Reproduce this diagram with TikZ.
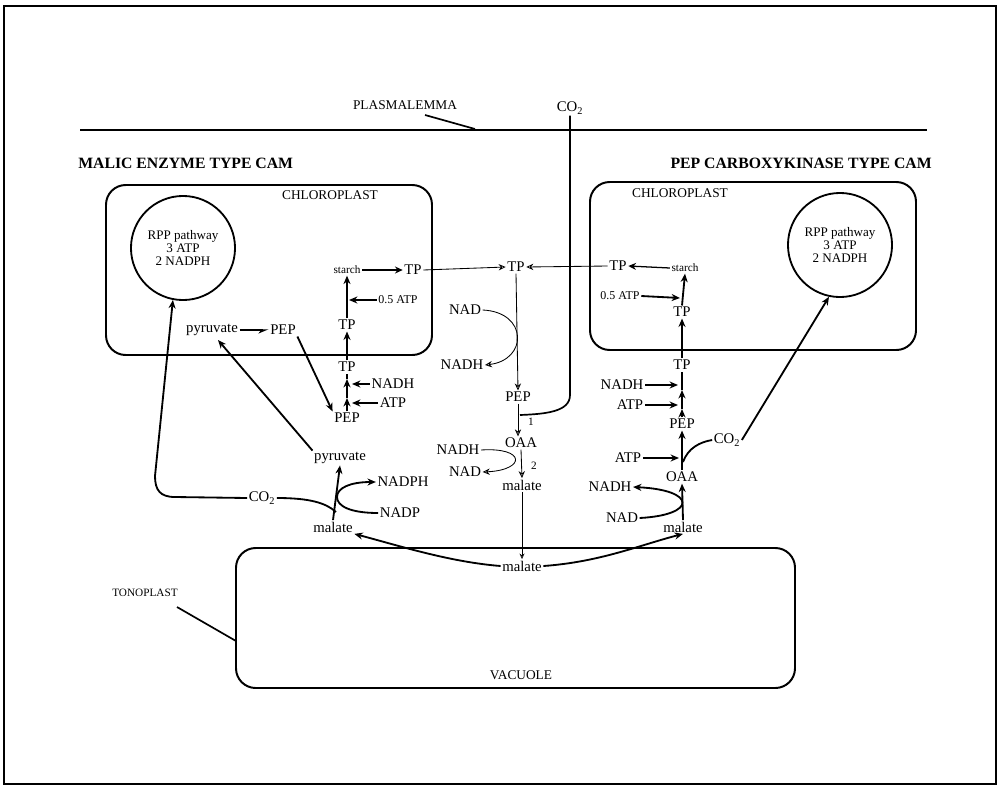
\documentclass[tikz,border=0pt]{standalone}
\usepackage{fontspec}
\setmainfont{Liberation Serif}
\usetikzlibrary{arrows.meta,calc}
\begin{document}
\begin{tikzpicture}[x=0.025cm,y=-0.025cm,
  lab/.style={font=\fontsize{10.5}{12}\selectfont, inner sep=1pt},
  sm/.style={font=\fontsize{8}{9}\selectfont, inner sep=1pt},
  caplab/.style={font=\fontsize{9.5}{10}\selectfont, inner sep=1pt},
  smb/.style={font=\fontsize{8.5}{9}\selectfont, inner sep=1pt},
  ttl/.style={font=\bfseries\fontsize{11.2}{12}\selectfont, inner sep=0pt},
  mem/.style={line width=1.4pt},
  box/.style={draw, line width=1.4pt, rounded corners=14pt},
  rpp/.style={draw, circle, line width=1.3pt, minimum size=74pt, inner sep=0pt, align=center, font=\fontsize{9.3}{9.5}\selectfont},
  thk/.style={line width=1.3pt, -{Stealth[length=6pt,width=5pt]}},
  plain/.style={line width=1.3pt},
  opn/.style={line width=0.9pt, -{Stealth[open,length=5.5pt,width=5pt]}},
  thn/.style={line width=0.6pt, -{Stealth[open,length=5pt,width=4.5pt]}},
]
\useasboundingbox (0,0) rectangle (1000,790);
% frame of the scan
\draw[line width=1.6pt] (4,6) rectangle (996,784);

% plasmalemma
\coordinate (plasL) at (80,130);
\coordinate (plasR) at (927,130);
\draw[mem] (plasL) -- (plasR);
\node[caplab] (plas) at (405,105) {PLASMALEMMA};
\coordinate (plasA) at (425,115);
\coordinate (plasB) at (475,129);
\draw[line width=1.2pt] (plasA) -- (plasB);
\node[lab] (co2top) at (570,108) {CO\textsubscript{2}};

% titles
\node[ttl, anchor=west] (tL) at (78,163) {MALIC ENZYME TYPE CAM};
\node[ttl, anchor=east] (tR) at (932,163) {PEP CARBOXYKINASE TYPE CAM};

% compartments
\draw[box] (106,185) rectangle (432,355);
\draw[box] (590,182) rectangle (916,350);
\draw[box] (236,548) rectangle (795,688);
\node[caplab] (chlL) at (330,195) {CHLOROPLAST};
\node[caplab] (chlR) at (680,193) {CHLOROPLAST};
\node[caplab] (vac) at (521,675) {VACUOLE};
\node[sm] (tono) at (145,593) {TONOPLAST};
\coordinate (tonoA) at (177,607);
\coordinate (tonoB) at (236,641);
\draw[line width=1.2pt] (tonoA) -- (tonoB);

% RPP circles
\node[rpp] (rppL) at (183,248) {RPP pathway\\3 ATP\\2 NADPH};
\node[rpp] (rppR) at (840,245) {RPP pathway\\3 ATP\\2 NADPH};

% ---------- left (malic enzyme) ----------
\node[sm] (starchL) at (347,270) {starch};
\node[lab] (tpL1) at (413,270) {TP};
\node[lab] (tpL2) at (347,325) {TP};
\node[smb] (atpL05) at (398,300) {0.5 ATP};
\node[lab] (tpL3) at (347,367) {TP};
\node[lab] (nadhL) at (393,384) {NADH};
\node[lab] (atpL) at (393,403) {ATP};
\node[lab] (pepL2) at (347,418) {PEP};
\node[lab] (pyrL1) at (212,330) {pyruvate};
\node[lab] (pepL1) at (283,330) {PEP};
\node[lab] (pyrL2) at (340,458) {pyruvate};
\node[lab] (co2L) at (262,498) {CO\textsubscript{2}};
\node[lab] (nadphL) at (403,482) {NADPH};
\node[lab] (nadpL) at (400,513) {NADP};
\node[lab] (malL) at (333,527) {malate};

\draw[opn] (starchL.east) -- (tpL1.west);
\draw[thk] (tpL2.north) -- (starchL.south);
\coordinate (jL05) at (349,300);
\draw[thk] (atpL05.west) -- (jL05);
\draw[thk] (tpL3.north) -- (tpL2.south);
\coordinate (aL1) at (347,398);
\coordinate (aL2) at (347,379);
\draw[thk] (pepL2.north) -- (aL1);
\draw[thk] (aL1) -- (aL2);
\draw[plain] (aL2) -- (tpL3.south);
\coordinate (jL1) at (352,384);
\coordinate (jL2) at (352,403);
\draw[thk] (nadhL.west) -- (jL1);
\draw[thk] (atpL.west) -- (jL2);
\draw[line width=1.3pt, -{Stealth[harpoon,swap,length=6pt,width=5pt]}] (pyrL1.east) -- (pepL1.west);
\draw[thk] (pepL1.south east) -- (pepL2.north west);
\coordinate (pyrL1t) at (218,340);
\draw[thk] (pyrL2.north west) -- (pyrL1t);
\coordinate (vL) at (336,512);
\draw[thk] (malL.north) -- (pyrL2.south);
\draw[thk] (nadpL.west) .. controls (350,513) and (337,506) .. (337,497)
   .. controls (337,488) and (350,482) .. (nadphL.west);
\draw[plain] (co2L.east) .. controls (310,498) and (326,503) .. (vL);
\coordinate (cL1) at (175,497);
\coordinate (cL2) at (155,476);
\draw[thk] (co2L.west) -- (cL1) .. controls (160,497) and (155,490) .. (cL2) -- (rppL.259);

% ---------- centre ----------
\node[lab] (tpC) at (516,267) {TP};
\node[lab] (nadC1) at (465,310) {NAD};
\node[lab] (nadhC1) at (462,365) {NADH};
\node[lab] (pepC) at (518,397) {PEP};
\node[sm] (one) at (531,422) {1};
\node[lab] (oaaC) at (521,443) {OAA};
\node[lab] (nadhC2) at (458,450) {NADH};
\node[lab] (nadC2) at (465,472) {NAD};
\node[sm] (two) at (534,466) {2};
\node[lab] (malC) at (522,485) {malate};
\node[lab] (malV) at (522,566) {malate};

\draw[thn] (tpL1.east) -- (tpC.west);
\draw[thn] (tpC.south) -- (pepC.north);
\draw[thn] (nadC1.east) .. controls (528,312) and (528,360) .. (nadhC1.east);
\draw[thn] (pepC.south) -- (pepC.south |- oaaC.north);
\coordinate (co2j) at (520,415);
\draw[line width=1.2pt] (co2top.south) -- (570,395) .. controls (570,412) and (545,414) .. (co2j);
\draw[thn] (oaaC.south) -- (malC.north);
\draw[thn] (nadhC2.east) .. controls (526,447) and (526,470) .. (nadC2.east);
\draw[line width=0.5pt, -{Stealth[open,length=4pt,width=3.5pt]}] (malC.south) -- (malV.north);

% ---------- right (PEP carboxykinase) ----------
\node[lab] (tpR1) at (618,266) {TP};
\node[sm] (starchR) at (685,268) {starch};
\node[smb] (atpR05) at (620,296) {0.5 ATP};
\node[lab] (tpR2) at (682,312) {TP};
\node[lab] (tpR3) at (682,365) {TP};
\node[lab] (nadhR) at (622,385) {NADH};
\node[lab] (atpR1) at (630,405) {ATP};
\node[lab] (pepR) at (682,424) {PEP};
\node[lab] (atpR2) at (628,458) {ATP};
\node[lab] (co2R) at (727,440) {CO\textsubscript{2}};
\node[lab] (oaaR) at (682,477) {OAA};
\node[lab] (nadhR2) at (610,487) {NADH};
\node[lab] (nadR) at (622,518) {NAD};
\node[lab] (malR) at (683,527) {malate};

\draw[thn] (tpR1.west) -- (tpC.east);
\draw[opn] (starchR.west) -- (tpR1.east);
\draw[thk] (tpR2.north) -- (starchR.south);
\coordinate (jR05) at (680,298);
\draw[thk] (atpR05.east) -- (jR05);
\draw[thk] (tpR3.north) -- (tpR2.south);
\coordinate (aR1) at (682,409);
\coordinate (aR2) at (682,390);
\draw[thk] (pepR.north) -- (aR1);
\draw[thk] (aR1) -- (aR2);
\draw[plain] (aR2) -- (tpR3.south);
\coordinate (jR1) at (678,385);
\coordinate (jR2) at (678,405);
\draw[thk] (nadhR.east) -- (jR1);
\draw[thk] (atpR1.east) -- (jR2);
\draw[thk] (oaaR.north) -- (pepR.south);
\coordinate (jR3) at (679,458);
\draw[thk] (atpR2.east) -- (jR3);
\coordinate (jR4) at (683,462);
\draw[plain] (jR4) .. controls (688,448) and (700,442) .. (co2R.west);
\draw[thk] (co2R.east) -- (rppR.258);
\draw[thk] (malR.north) -- (oaaR.south);
\draw[thk] (nadR.east) .. controls (697,515) and (697,490) .. (nadhR2.east);

% vacuole malate export
\draw[thk] (malV.west) .. controls (450,562) and (400,546) .. (malL.south east);
\draw[thk] (malV.east) .. controls (600,562) and (640,545) .. (malR.south);
\end{tikzpicture}
\end{document}
